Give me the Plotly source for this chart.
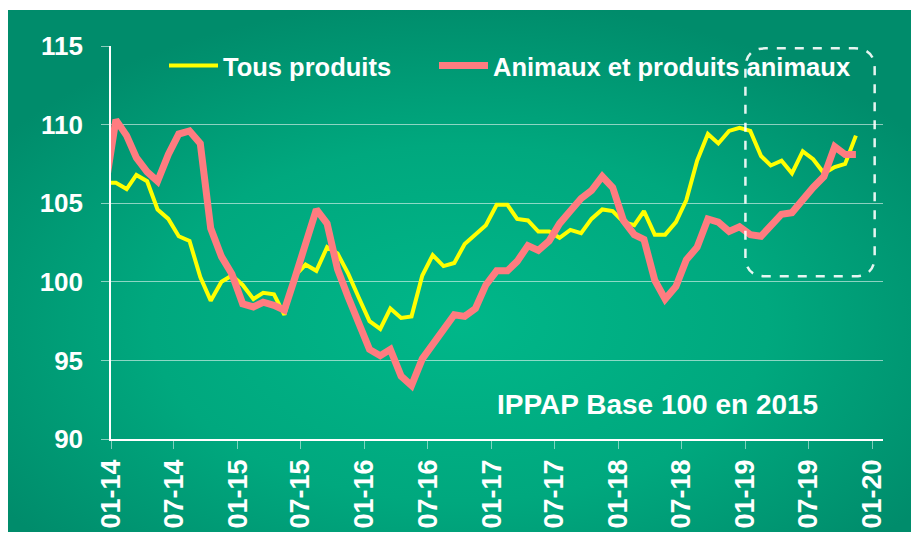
import base64
import pandas as pd
import plotly.graph_objects as go

# ---------------- data ----------------
start_month = "2013-12-01"          # first monthly observation (Dec 2013, clipped at axis start)
n_months = 72                        # Dec 2013 .. Nov 2019

tous_produits = [
    106.3,
    106.3, 105.9, 106.8, 106.4, 104.6, 104.0, 102.9, 102.6, 100.3, 98.8, 100.0, 100.4,   # 2014
    99.8, 98.9, 99.3, 99.2, 97.9, 100.4, 101.1, 100.7, 102.2, 101.8, 100.5, 99.0,         # 2015
    97.5, 97.0, 98.3, 97.7, 97.8, 100.4, 101.7, 101.0, 101.2, 102.4, 103.0, 103.6,        # 2016
    104.9, 104.9, 104.0, 103.9, 103.2, 103.2, 102.8, 103.3, 103.1, 104.0, 104.6, 104.5,   # 2017
    103.8, 103.6, 104.5, 103.0, 103.0, 103.8, 105.2, 107.7, 109.4, 108.8, 109.6, 109.8,   # 2018
    109.6, 108.0, 107.4, 107.7, 106.9, 108.3, 107.8, 106.9, 107.3, 107.5, 109.3,          # 2019
]

animaux = [
    105.9,
    110.3, 109.3, 107.9, 107.0, 106.4, 108.1, 109.4, 109.6, 108.8, 103.4, 101.6, 100.5,   # 2014
    98.6, 98.4, 98.7, 98.5, 98.2, 100.3, 102.5, 104.6, 103.7, 100.8, 99.0, 97.4,          # 2015
    95.7, 95.3, 95.7, 94.0, 93.4, 95.1, 96.0, 97.0, 97.9, 97.8, 98.3, 99.8,               # 2016
    100.7, 100.7, 101.3, 102.3, 102.0, 102.6, 103.7, 104.5, 105.3, 105.8, 106.7, 106.0,   # 2017
    103.9, 103.0, 102.7, 100.1, 98.9, 99.7, 101.4, 102.2, 104.0, 103.8, 103.2, 103.5,     # 2018
    103.0, 102.9, 103.6, 104.3, 104.4, 105.3, 106.0, 106.7, 108.6, 108.1, 108.1,          # 2019
]

series_names = ["Tous produits", "Animaux et produits animaux"]
annotation_text = "IPPAP Base 100 en 2015"
x_range = ["2014-01-01", "2020-02-01"]
y_range = [90, 115]
highlight_x = ["2019-01-01", "2020-01-08"]   # dashed box around 2019
highlight_y = [100.35, 114.85]

# points are plotted in the middle of each month
months = pd.date_range(start_month, periods=n_months, freq="MS") + pd.Timedelta(days=14)

# ---------------- style ----------------
FONT = "Liberation Sans, Arial, sans-serif"
YELLOW = "#FFFF00"
CORAL = "#FF7C80"
OFF = 8                       # page body margin
W, H = 919 - OFF, 536 - OFF
ML, MT = 111 - OFF, 46 - OFF
MR = W - (883 - OFF)
MB = H - (439 - OFF)
PW, PH = W - ML - MR, H - MT - MB


def px_x(px):   # page x pixel -> paper coordinate
    return (px - OFF - ML) / PW


def px_y(py):   # page y pixel -> paper coordinate
    return (H - MB - (py - OFF)) / PH


fig = go.Figure()
fig.add_trace(go.Scatter(x=months, y=tous_produits, mode="lines", name=series_names[0],
                         line=dict(color=YELLOW, width=4), legend="legend"))
fig.add_trace(go.Scatter(x=months, y=animaux, mode="lines", name=series_names[1],
                         line=dict(color=CORAL, width=7), legend="legend2"))

# green gradient panel as a background image
svg = ('<svg xmlns="http://www.w3.org/2000/svg" width="904" height="522" preserveAspectRatio="none">'
       '<defs><radialGradient id="g" cx="0.5" cy="0.6" r="0.62">'
       '<stop offset="0" stop-color="#00B789"/><stop offset="0.55" stop-color="#00A87E"/>'
       '<stop offset="1" stop-color="#008C6B"/></radialGradient></defs>'
       '<rect width="904" height="522" fill="url(#g)"/></svg>')
src = "data:image/svg+xml;base64," + base64.b64encode(svg.encode()).decode()
bx0, by0, bx1, by1 = 8, 10, 912, 532
fig.add_layout_image(dict(source=src, xref="paper", yref="paper",
                          x=px_x(bx0), y=px_y(by0),
                          sizex=(bx1 - bx0) / PW, sizey=(by1 - by0) / PH,
                          xanchor="left", yanchor="top", sizing="stretch", layer="below"))

# rounded dashed highlight box (path on date axis uses ms timestamps)
x0 = pd.Timestamp(highlight_x[0]).value / 1e6
x1 = pd.Timestamp(highlight_x[1]).value / 1e6
y0, y1 = highlight_y
rx = 1.9 * 30.44 * 86400000.0
ry = 1.3
path = (f"M{x0},{y1 - ry} L{x0},{y0 + ry} Q{x0},{y0} {x0 + rx},{y0} "
        f"L{x1 - rx},{y0} Q{x1},{y0} {x1},{y0 + ry} L{x1},{y1 - ry} "
        f"Q{x1},{y1} {x1 - rx},{y1} L{x0 + rx},{y1} Q{x0},{y1} {x0},{y1 - ry} Z")
fig.add_shape(type="path", path=path, xref="x", yref="y",
              line=dict(color="rgba(255,255,255,0.9)", width=2.5, dash="dash"))

fig.add_annotation(text=annotation_text, xref="paper", yref="paper",
                   x=px_x(657), y=px_y(404), xanchor="center", yanchor="middle",
                   showarrow=False,
                   font=dict(family=FONT, size=28, color="white", weight="bold"))

legend_font = dict(family=FONT, size=25.5, color="white", weight="bold")
fig.update_layout(
    width=W, height=H,
    margin=dict(l=ML, r=MR, t=MT, b=MB, autoexpand=False),
    paper_bgcolor="white", plot_bgcolor="rgba(0,0,0,0)",
    font=dict(family=FONT, color="white", weight="bold"),
    legend=dict(orientation="h", x=px_x(164), xanchor="left",
                y=px_y(66), yanchor="middle", bgcolor="rgba(0,0,0,0)",
                font=legend_font, itemwidth=49),
    legend2=dict(orientation="h", x=px_x(434), xanchor="left",
                 y=px_y(66), yanchor="middle", bgcolor="rgba(0,0,0,0)",
                 font=legend_font, itemwidth=49),
    showlegend=True,
)
fig.update_xaxes(type="date", range=x_range, tick0="2014-01-01", dtick="M6",
                 tickformat="%m-%y", tickangle=-90,
                 showgrid=False, showline=True, linecolor="white", linewidth=1.5,
                 ticks="outside", ticklen=8, tickcolor="rgba(255,255,255,0.5)",
                 tickfont=dict(family=FONT, size=27, color="white", weight="bold"),
                 zeroline=False)
fig.update_yaxes(range=y_range, dtick=5, showgrid=True, gridcolor="rgba(255,255,255,0.55)",
                 gridwidth=1, showline=True, linecolor="white", linewidth=1.5,
                 ticks="outside", ticklen=8, tickcolor="rgba(255,255,255,0.55)",
                 ticklabelstandoff=13,
                 tickfont=dict(family=FONT, size=26, color="white", weight="bold"),
                 zeroline=False)

fig.write_html("out.html")
